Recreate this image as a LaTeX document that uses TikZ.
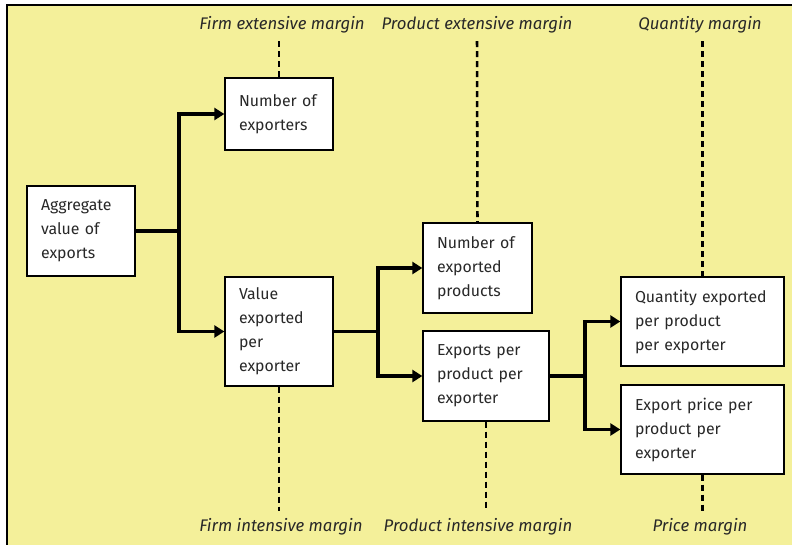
\documentclass[tikz,border=0pt]{standalone}
\usepackage{fontspec}
\setmainfont{Fira Sans}
\usetikzlibrary{arrows.meta}
\definecolor{bgyellow}{RGB}{244,240,154}
\definecolor{txt}{RGB}{40,40,40}
\begin{document}
\begin{tikzpicture}[x=0.75pt,y=-0.75pt,
  font=\fontsize{11.9}{18}\selectfont,
  box/.style={draw=black,line width=1pt,fill=white,text=txt,align=left,inner xsep=10.5pt,anchor=center},
  conn/.style={line width=2.3pt,-{Triangle[length=7.5pt,width=9pt]}},
  plainconn/.style={line width=2.3pt},
  marg/.style={line width=1.9pt,dash pattern=on 4.5pt off 3pt},
  lab/.style={text=txt,font=\fontsize{12.6}{14}\selectfont\itshape}]
\useasboundingbox (0,0) rectangle (792,544);
\fill[bgyellow] (7,5) rectangle (800,550);
\draw[line width=1.2pt] (7,550) -- (7,5) -- (800,5);

% boxes
\node[box,minimum width=108*0.75pt,minimum height=90*0.75pt,text width=80*0.75pt] (agg) at (81,231) {Aggregate\\value of\\exports};
\node[box,minimum width=108*0.75pt,minimum height=72*0.75pt,text width=80*0.75pt] (nexp) at (279,114) {Number of\\exporters};
\node[box,minimum width=108*0.75pt,minimum height=109*0.75pt,text width=80*0.75pt] (vexp) at (279,331.5) {Value\\exported\\per\\exporter};
\node[box,minimum width=109*0.75pt,minimum height=90*0.75pt,text width=81*0.75pt] (nprod) at (477.5,268) {Number of\\exported\\products};
\node[box,minimum width=126*0.75pt,minimum height=90*0.75pt,text width=98*0.75pt] (epp) at (486,376) {Exports per\\product per\\exporter};
\node[box,minimum width=163*0.75pt,minimum height=89*0.75pt,text width=135*0.75pt] (qty) at (702.5,321.5) {Quantity exported\\per product\\per exporter};
\node[box,minimum width=163*0.75pt,minimum height=89*0.75pt,text width=135*0.75pt] (price) at (702.5,429.5) {Export price per\\product per\\exporter};

% junctions
\coordinate (j1) at (179,231);
\coordinate (j2) at (378,331.5);
\coordinate (j3) at (585,376);
\draw[plainconn] (agg.east) -- (j1);
\draw[conn] (j1) |- (nexp.west);
\draw[conn] (j1) |- (vexp.west);
\draw[plainconn] (vexp.east) -- (j2);
\draw[conn] (j2) |- (nprod.west);
\draw[conn] (j2) |- (epp.west);
\draw[plainconn] (epp.east) -- (j3);
\draw[conn] (j3) |- (qty.west);
\draw[conn] (j3) |- (price.west);

% margin labels
\node[lab] (fem) at (282,25) {Firm extensive margin};
\node[lab] (pem) at (477,25) {Product extensive margin};
\node[lab] (qm) at (700,25) {Quantity margin};
\node[lab] (fim) at (281,527) {Firm intensive margin};
\node[lab] (pim) at (478,527) {Product intensive margin};
\node[lab] (pm) at (700,527) {Price margin};

\coordinate (t1) at (279,41);
\coordinate (t2) at (477,41);
\coordinate (t3) at (702.5,41);
\coordinate (b1) at (279,511);
\coordinate (b2) at (486,511);
\coordinate (b3) at (702.5,511);
\draw[marg] (t1) -- (nexp.north);
\draw[marg] (t2) -- (nprod.north);
\draw[marg] (t3) -- (qty.north);
\draw[marg] (vexp.south) -- (b1);
\draw[marg] (epp.south) -- (b2);
\draw[marg] (price.south) -- (b3);
\end{tikzpicture}
\end{document}
